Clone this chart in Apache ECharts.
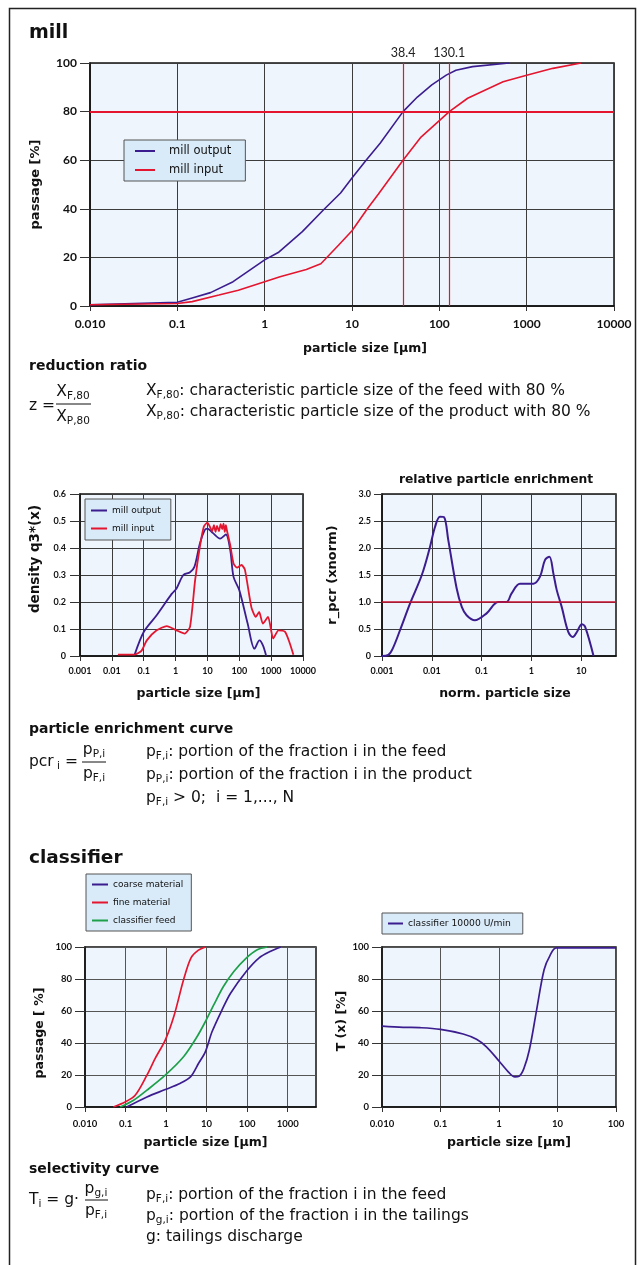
<!DOCTYPE html>
<html><head><meta charset="utf-8">
<script src="https://cdn.jsdelivr.net/npm/echarts@6/dist/echarts.min.js"></script>
<style>html,body{margin:0;padding:0;background:#fff}#c{width:640px;height:1265px}</style>
</head><body><div id="c"></div>
<script>
// ---------- DATA ----------
// mill: cumulative passage [%] vs particle size [µm]
const millOutX = [0.01, 0.1, 0.148, 0.24, 0.435, 1, 1.43, 2.7, 4.7, 7.4, 10, 14.5, 21, 38.4, 56, 82, 120, 155, 240, 630];
const millOutY = [0.5, 1.5, 3.3, 5.5, 10, 19, 22, 30.6, 39.5, 46.5, 52.7, 60, 67, 80, 86, 91, 95, 97, 98.5, 100];
const millInX = [0.01, 0.1, 0.148, 0.3, 0.5, 1, 1.5, 3, 4.4, 7, 10, 15, 20, 38.4, 61.7, 130.1, 211, 537, 1000, 2000, 4200];
const millInY = [0.5, 1, 1.8, 4.5, 6.5, 10, 12, 15, 17.4, 25, 31, 40, 46, 60, 69.5, 80, 85.5, 92.3, 95, 97.8, 100];
const x80Marks = [38.4, 130.1];
const passage80 = 80;

// density q3*(x)
const densOutX = [0.052, 0.1, 0.255, 0.755, 1.07, 1.75, 2.84, 3.9, 5.8, 8.2, 10, 15, 25, 38, 52, 66, 100, 183, 300, 430, 548, 700];
const densOutY = [0.005, 0.089, 0.151, 0.23, 0.25, 0.30, 0.31, 0.33, 0.417, 0.466, 0.472, 0.455, 0.435, 0.45, 0.392, 0.293, 0.244, 0.12, 0.027, 0.058, 0.04, 0.0];
const densInX = [0.0155, 0.052, 0.086, 0.125, 0.255, 0.53, 1.07, 1.94, 2.84, 4.1, 5.8, 7.7, 10, 12, 14, 16, 18, 20, 23, 26, 29, 32, 35, 38, 41, 52, 66, 85, 117, 150, 240, 330, 420, 550, 800, 1160, 1700, 2700, 3700, 5000];
const densInY = [0.005, 0.005, 0.02, 0.058, 0.095, 0.111, 0.095, 0.083, 0.108, 0.28, 0.405, 0.479, 0.494, 0.478, 0.462, 0.485, 0.46, 0.482, 0.462, 0.488, 0.47, 0.49, 0.46, 0.485, 0.465, 0.41, 0.343, 0.327, 0.337, 0.32, 0.18, 0.145, 0.163, 0.12, 0.145, 0.065, 0.095, 0.09, 0.053, 0.005];

// relative particle enrichment
const enrX = [0.001, 0.00134, 0.00164, 0.0023, 0.00365, 0.0063, 0.0092, 0.0116, 0.0146, 0.0176, 0.0214, 0.0316, 0.04, 0.05, 0.073, 0.126, 0.216, 0.317, 0.4, 0.59, 1.1, 1.49, 1.88, 2.3, 2.76, 3.23, 4.06, 5.5, 6.8, 8.2, 10.3, 12, 17.7];
const enrY = [0.0, 0.02, 0.137, 0.477, 0.97, 1.5, 2.02, 2.39, 2.58, 2.57, 2.15, 1.25, 0.91, 0.755, 0.66, 0.79, 1.0, 1.0, 1.16, 1.34, 1.34, 1.47, 1.78, 1.84, 1.53, 1.22, 0.91, 0.445, 0.35, 0.445, 0.59, 0.54, 0.0];
const enrRef = 1.0;

// classifier passage
const coarseX = [0.107, 0.337, 0.955, 2.2, 4, 6.3, 9.3, 13.6, 24, 39, 95, 195, 380, 676];
const coarseY = [0, 6.3, 10.9, 14.7, 18.8, 27.2, 34.5, 47, 60.7, 71.1, 84.7, 93.1, 97.3, 100];
const fineX = [0.05, 0.098, 0.173, 0.337, 0.54, 0.955, 1.55, 2.7, 4.1, 6.3, 9.3];
const fineY = [0, 3.1, 7.3, 19.9, 30.4, 41.8, 56.5, 79.5, 93.1, 98, 100];
const feedX = [0.074, 0.158, 0.337, 0.955, 2.7, 5.8, 9.3, 15, 26, 47, 95, 178, 315];
const feedY = [0, 4.2, 10.5, 19.9, 31.4, 43.9, 53.3, 63.8, 75.3, 84.7, 93.1, 98.3, 100];

// selectivity curve
const selX = [0.01, 0.023, 0.044, 0.1, 0.244, 0.413, 0.61, 0.97, 1.44, 1.87, 2.2, 2.66, 3.3, 4.4, 5.9, 7.4, 9.6, 100];
const selY = [50.6, 49.8, 49.6, 48.5, 45.6, 42.3, 37.6, 29.3, 22, 18.8, 19.2, 24, 35.6, 60.7, 85.8, 94.5, 99.4, 99.4];

// tick labels
const topXLabels = ['0.010', '0.1', '1', '10', '100', '1000', '10000'];
const densXLabels = ['0.001', '0.01', '0.1', '1', '10', '100', '1000', '10000'];
const enrXLabels = ['0.001', '0.01', '0.1', '1', '10'];
const clsXLabels = ['0.010', '0.1', '1', '10', '100', '1000'];
const selXLabels = ['0.010', '0.1', '1', '10', '100'];

// ---------- STYLE ----------
const TICKFONT = 'Lato, "Open Sans", sans-serif';
const FONT = '"DejaVu Sans", Verdana, sans-serif';
const PURPLE = '#3b1d8f', RED = '#e3152f', GREEN = '#1ea04b';
const BG = '#eef5fc', LEGBG = '#d9eaf8', INK = '#111';

function pairs(xs, ys) { return xs.map((x, i) => [x, ys[i]]); }
function logFmt(labels, minExp) {
  return function (v) {
    const e = Math.log10(v), r = Math.round(e);
    if (Math.abs(e - r) > 1e-6) return '';
    const s = labels[r - minExp];
    return s === undefined ? '' : s;
  };
}
function dec1(v) { return v === 0 ? '0' : v.toFixed(1); }

function xLog(grid, min, max, labels, minExp, name, o) {
  const ticks = labels.map((_, i) => Math.pow(10, minExp + i));
  return {
    type: 'log', logBase: 10, gridIndex: grid, min: min, max: max,
    name: name, nameLocation: 'middle', nameGap: o.nameGap,
    nameTextStyle: { fontFamily: FONT, fontWeight: 'bold', fontSize: o.nameSize, color: INK, padding: [0, 0, 0, o.shift * 2] },
    axisLine: { show: true, onZero: false, lineStyle: { color: INK, width: 1.5 } },
    axisTick: { show: true, length: 5, lineStyle: { color: '#333', width: 1 }, customValues: o.custom ? ticks : undefined },
    axisLabel: { formatter: logFmt(labels, minExp), fontFamily: TICKFONT, fontWeight: 'bold', fontSize: o.labelSize, color: INK, margin: o.margin },
    splitLine: { show: true, lineStyle: { color: o.gridColor || '#3c3c3c', width: 1 } },
    minorTick: { show: false }, minorSplitLine: { show: false }
  };
}
function yVal(grid, max, interval, name, o) {
  const sh = o.shift || 0; // positive = move name up
  return {
    type: 'value', gridIndex: grid, min: 0, max: max, interval: interval,
    name: name, nameLocation: 'middle', nameGap: o.nameGap,
    nameTextStyle: { fontFamily: FONT, fontWeight: 'bold', fontSize: o.nameSize, color: INK,
      padding: sh >= 0 ? [0, 0, 0, sh * 2] : [0, -sh * 2, 0, 0] },
    axisLine: { show: true, onZero: false, lineStyle: { color: INK, width: 1.5 } },
    axisTick: { show: true, length: o.tickLen || 9, lineStyle: { color: '#333', width: 1 } },
    axisLabel: { formatter: o.fmt, fontFamily: TICKFONT, fontWeight: 'bold', fontSize: o.labelSize, color: INK, margin: o.margin },
    splitLine: { show: true, lineStyle: { color: o.gridColor || '#3c3c3c', width: 1 } }
  };
}
function line(name, xs, ys, color, xi, width, smooth, extra) {
  return Object.assign({
    type: 'line', name: name, xAxisIndex: xi, yAxisIndex: xi, data: pairs(xs, ys),
    symbol: 'none', showSymbol: false, smooth: smooth, clip: true,
    lineStyle: { color: color, width: width }, itemStyle: { color: color }, z: 3
  }, extra || {});
}
function legend(left, top, names, o) {
  return {
    left: left, top: top, orient: 'vertical', data: names,
    backgroundColor: LEGBG, borderColor: '#555', borderWidth: 1,
    padding: o.padding, itemGap: o.itemGap, itemWidth: o.itemWidth, itemHeight: 2, icon: 'rect',
    textStyle: { fontFamily: FONT, fontSize: o.fontSize, color: INK, padding: o.textPad || 0 }, selectedMode: false
  };
}

const R = {
  n: { fontSize: 15.5, fontFamily: FONT, fill: INK, color: INK, lineHeight: 20 },
  s: { fontSize: 10.5, fontFamily: FONT, fill: INK, color: INK, lineHeight: 11, verticalAlign: 'bottom' }
};
function T(x, y, text, size, o) {
  o = o || {};
  return { type: 'text', x: x, y: y, silent: true, z: 10,
    style: { text: text, fill: INK, fontSize: size, fontFamily: FONT, fontWeight: o.bold ? 'bold' : 'normal',
      align: o.align || 'left', verticalAlign: 'middle', rich: o.rich } };
}
function HL(x1, x2, y) {
  return { type: 'line', silent: true, z: 10, shape: { x1: x1, y1: y, x2: x2, y2: y }, style: { stroke: INK, lineWidth: 1 } };
}

const option = {
  backgroundColor: '#fff',
  animation: false,
  grid: [
    { left: 90, top: 63, width: 524, height: 243 },
    { left: 80, top: 494, width: 223, height: 162 },
    { left: 382, top: 494, width: 234, height: 162 },
    { left: 85, top: 947, width: 231, height: 160 },
    { left: 382, top: 947, width: 234, height: 160 }
  ].map(g => Object.assign(g, { show: true, backgroundColor: BG, borderColor: INK, borderWidth: 1.5, containLabel: false })),
  xAxis: [
    xLog(0, 0.01, 10000, topXLabels, -2, 'particle size [μm]', { nameGap: 36, nameSize: 12.5, labelSize: 12, margin: 12, shift: 13 }),
    xLog(1, 0.001, 10000, densXLabels, -3, 'particle size [μm]', { nameGap: 31, nameSize: 12.5, labelSize: 9, margin: 11, shift: 7 }),
    xLog(2, 0.001, 50, enrXLabels, -3, 'norm. particle size', { nameGap: 31, nameSize: 12.5, labelSize: 9, margin: 11, shift: 6, custom: true }),
    xLog(3, 0.01, 5000, clsXLabels, -2, 'particle size [μm]', { nameGap: 29, nameSize: 12.5, labelSize: 9.5, margin: 12, shift: 5, gridColor: '#555', custom: true }),
    xLog(4, 0.01, 100, selXLabels, -2, 'particle size [μm]', { nameGap: 29, nameSize: 12.5, labelSize: 9.5, margin: 12, shift: 10, gridColor: '#555' })
  ],
  yAxis: [
    yVal(0, 100, 20, 'passage [%]', { nameGap: 48, nameSize: 13, labelSize: 12, margin: 13, tickLen: 10 }),
    yVal(1, 0.6, 0.1, 'density q3*(x)', { nameGap: 38, nameSize: 13.5, labelSize: 9, margin: 14, tickLen: 10, fmt: dec1, shift: 16 }),
    yVal(2, 3, 0.5, 'r_pcr (xnorm)', { nameGap: 43, nameSize: 13, labelSize: 9, margin: 11, tickLen: 8, fmt: dec1 }),
    yVal(3, 100, 20, 'passage [ %]', { nameGap: 39, nameSize: 12.5, labelSize: 9.5, margin: 13, tickLen: 10, gridColor: '#555', shift: -6 }),
    yVal(4, 100, 20, 'T (x) [%]', { nameGap: 30, nameSize: 12.5, labelSize: 9.5, margin: 13, tickLen: 10, gridColor: '#555', shift: 6 })
  ],
  legend: [
    legend(124, 140, ['mill output', 'mill input'], { padding: [5, 14, 5, 11], itemGap: 7, itemWidth: 20, fontSize: 11.5, textPad: [0, 0, 0, 9] }),
    legend(85, 499, ['mill output', 'mill input'], { padding: [7, 10, 7, 6], itemGap: 9, itemWidth: 16, fontSize: 9 }),
    legend(86, 874, ['coarse material', 'fine material', 'classifier feed'], { padding: [6, 8, 6, 6], itemGap: 9, itemWidth: 16, fontSize: 9 }),
    legend(382, 913, ['classifier 10000 U/min'], { padding: [6, 12, 6, 6], itemGap: 8, itemWidth: 15, fontSize: 9.2 })
  ],
  series: [
    line('mill output', millOutX, millOutY, PURPLE, 0, 1.6, false),
    line('mill input', millInX, millInY, RED, 0, 1.6, false, {
      markLine: {
        silent: true, symbol: 'none', animation: false,
        data: [
          { yAxis: passage80, lineStyle: { color: RED, width: 2, type: 'solid' }, label: { show: false } },
          { xAxis: x80Marks[0], lineStyle: { color: RED, width: 1.2, type: 'solid' } },
          { xAxis: x80Marks[1], lineStyle: { color: RED, width: 1.2, type: 'solid' } }
        ],
        label: { show: true, position: 'end', formatter: p => String(p.value), fontFamily: TICKFONT, fontSize: 12.5, color: '#222', distance: 4 }
      }
    }),
    line('mill output', densOutX, densOutY, PURPLE, 1, 1.8, 0.3),
    line('mill input', densInX, densInY, RED, 1, 1.8, 0.2),
    line('relative particle enrichment', enrX, enrY, PURPLE, 2, 2, 0.35, {
      markLine: {
        silent: true, symbol: 'none', animation: false, label: { show: false },
        data: [{ yAxis: enrRef }], lineStyle: { color: '#c8102e', width: 1.5, type: 'solid' }
      }
    }),
    line('coarse material', coarseX, coarseY, PURPLE, 3, 1.7, 0.3),
    line('fine material', fineX, fineY, RED, 3, 1.7, 0.3),
    line('classifier feed', feedX, feedY, GREEN, 3, 1.7, 0.3),
    line('classifier 10000 U/min', selX, selY, PURPLE, 4, 1.7, 0.35)
  ],
  graphic: [
    { type: 'rect', silent: true, z: 0, shape: { x: 9.5, y: 8.5, width: 626, height: 1300 }, style: { fill: 'none', stroke: '#222', lineWidth: 1.5 } },
    T(29, 33, 'mill', 19, { bold: true }),
    T(29, 858, 'classifier', 18.5, { bold: true }),
    T(496, 480, 'relative particle enrichment', 12.3, { bold: true, align: 'center' }),

    T(29, 366, 'reduction ratio', 14, { bold: true }),
    T(29, 406, 'z =', 15.5),
    T(73, 392, '{n|X}{s|F,80}', 15.5, { rich: R, align: 'center' }),
    HL(56, 91, 404),
    T(73, 417, '{n|X}{s|P,80}', 15.5, { rich: R, align: 'center' }),
    T(146, 391, '{n|X}{s|F,80}{n|: characteristic particle size of the feed with 80 %}', 15.5, { rich: R }),
    T(146, 412, '{n|X}{s|P,80}{n|: characteristic particle size of the product with 80 %}', 15.5, { rich: R }),

    T(29, 729, 'particle enrichment curve', 14, { bold: true }),
    T(29, 762, '{n|pcr}{s| i}{n| =}', 15.5, { rich: R }),
    T(94, 750, '{n|p}{s|P,i}', 15.5, { rich: R, align: 'center' }),
    HL(82, 106, 762),
    T(94, 774, '{n|p}{s|F,i}', 15.5, { rich: R, align: 'center' }),
    T(146, 752, '{n|p}{s|F,i}{n|: portion of the fraction i in the feed}', 15.5, { rich: R }),
    T(146, 775, '{n|p}{s|P,i}{n|: portion of the fraction i in the product}', 15.5, { rich: R }),
    T(146, 798, '{n|p}{s|F,i}{n| > 0;  i = 1,..., N}', 15.5, { rich: R }),

    T(29, 1169, 'selectivity curve', 14, { bold: true }),
    T(29, 1200, '{n|T}{s|i}{n| = g·}', 15.5, { rich: R }),
    T(96, 1189, '{n|p}{s|g,i}', 15.5, { rich: R, align: 'center' }),
    HL(85, 108, 1200),
    T(96, 1211, '{n|p}{s|F,i}', 15.5, { rich: R, align: 'center' }),
    T(146, 1195, '{n|p}{s|F,i}{n|: portion of the fraction i in the feed}', 15.5, { rich: R }),
    T(146, 1216, '{n|p}{s|g,i}{n|: portion of the fraction i in the tailings}', 15.5, { rich: R }),
    T(146, 1237, '{n|g: tailings discharge}', 15.5, { rich: R })
  ]
};

const chart = echarts.init(document.getElementById('c'), null, { renderer: 'canvas', width: 640, height: 1265 });
chart.setOption(option);
</script>
</body></html>
